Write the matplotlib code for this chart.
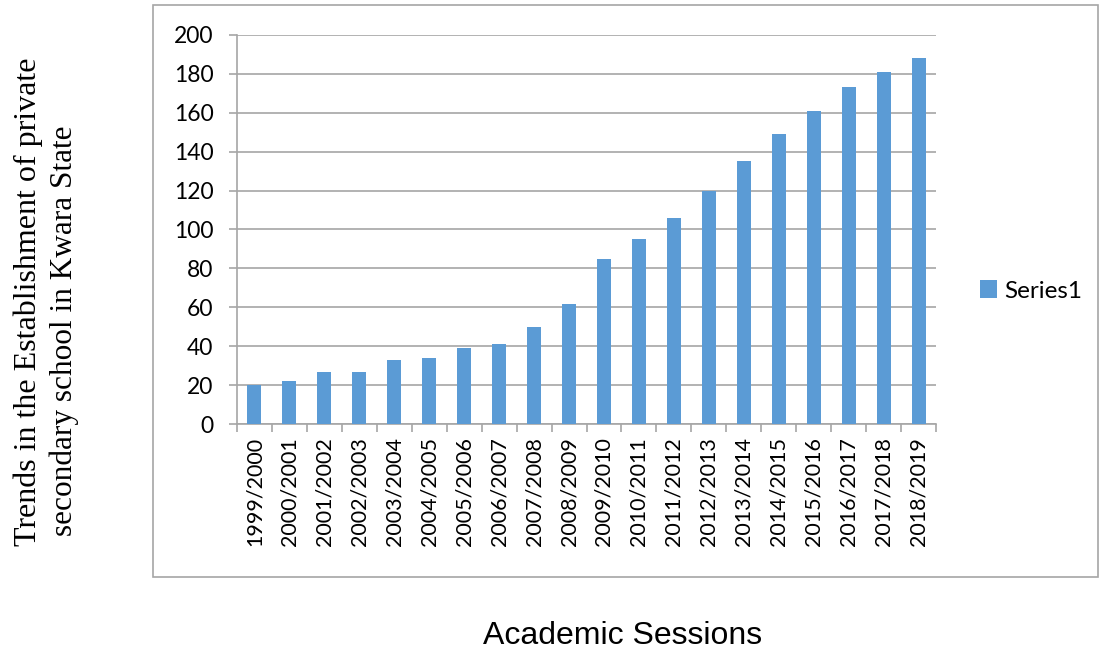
import numpy as np
import matplotlib
matplotlib.use('Agg')
import matplotlib.pyplot as plt
from matplotlib.patches import Rectangle

# private secondary schools established per academic session
sessions = ['1999/2000', '2000/2001', '2001/2002', '2002/2003', '2003/2004',
            '2004/2005', '2005/2006', '2006/2007', '2007/2008', '2008/2009',
            '2009/2010', '2010/2011', '2011/2012', '2012/2013', '2013/2014',
            '2014/2015', '2015/2016', '2016/2017', '2017/2018', '2018/2019']
schools = [20, 22, 27, 27, 33, 34, 39, 41, 50, 62,
           85, 95, 106, 120, 135, 149, 161, 173, 181, 188]
yticks = [0, 20, 40, 60, 80, 100, 120, 140, 160, 180, 200]

BLUE = '#5B9BD5'
GRID = '#a6a6a6'
plt.rcParams['font.family'] = ['Lato', 'DejaVu Sans']

fig = plt.figure(figsize=(11, 6.51), dpi=100)

# outer chart frame
fig.patches.append(Rectangle((153/1100, 1 - 577/651), (1098-153)/1100, (577-5)/651,
                             transform=fig.transFigure, fill=False,
                             edgecolor=GRID, linewidth=1.2))

ax = fig.add_axes([237/1100, 1 - 424.3/651, (936-237)/1100, (424.3-34.7)/651])
x = np.arange(len(sessions))
bars = ax.bar(x, schools, width=0.4, color=BLUE, zorder=3, label='Series1')

ax.set_xlim(-0.5, len(sessions) - 0.5)
ax.set_ylim(0, 200)
ax.set_yticks(yticks)
ax.yaxis.grid(True, color=GRID, linewidth=1.2, zorder=0)

for s in ['top', 'right']:
    ax.spines[s].set_visible(False)
for s in ['left', 'bottom']:
    ax.spines[s].set_color(GRID)
    ax.spines[s].set_linewidth(1.2)

ax.set_xticks(x)
ax.set_xticklabels(sessions, rotation=90, fontsize=15.5)
ax.set_xticks(np.arange(-0.5, len(sessions)), minor=True)
ax.tick_params(axis='x', which='major', length=0, pad=9)
ax.tick_params(axis='x', which='minor', length=6, color=GRID, width=1.2)
ax.tick_params(axis='y', length=6, color=GRID, width=1.2, labelsize=16.5, pad=11)

# y title, two rotated lines
fig.text(28/1100, 1 - 302/651, 'Trends in the Establishment of private',
         rotation=90, ha='center', va='center', fontsize=23,
         family=['Liberation Serif'])
fig.text(64/1100, 1 - 331/651, 'secondary school in Kwara State',
         rotation=90, ha='center', va='center', fontsize=22.5,
         family=['Liberation Serif'])
fig.text(623/1100, 1 - 636/651, 'Academic Sessions', ha='center', va='center',
         fontsize=23, family=['Liberation Sans'])

fig.legend(handles=[bars], labels=['Series1'], loc='center left',
           bbox_to_anchor=(958/1100, 1 - 291/651), frameon=False, fontsize=17.5,
           handlelength=0.7, handleheight=0.7, handletextpad=0.3)

fig.savefig('out.png', dpi=100)
